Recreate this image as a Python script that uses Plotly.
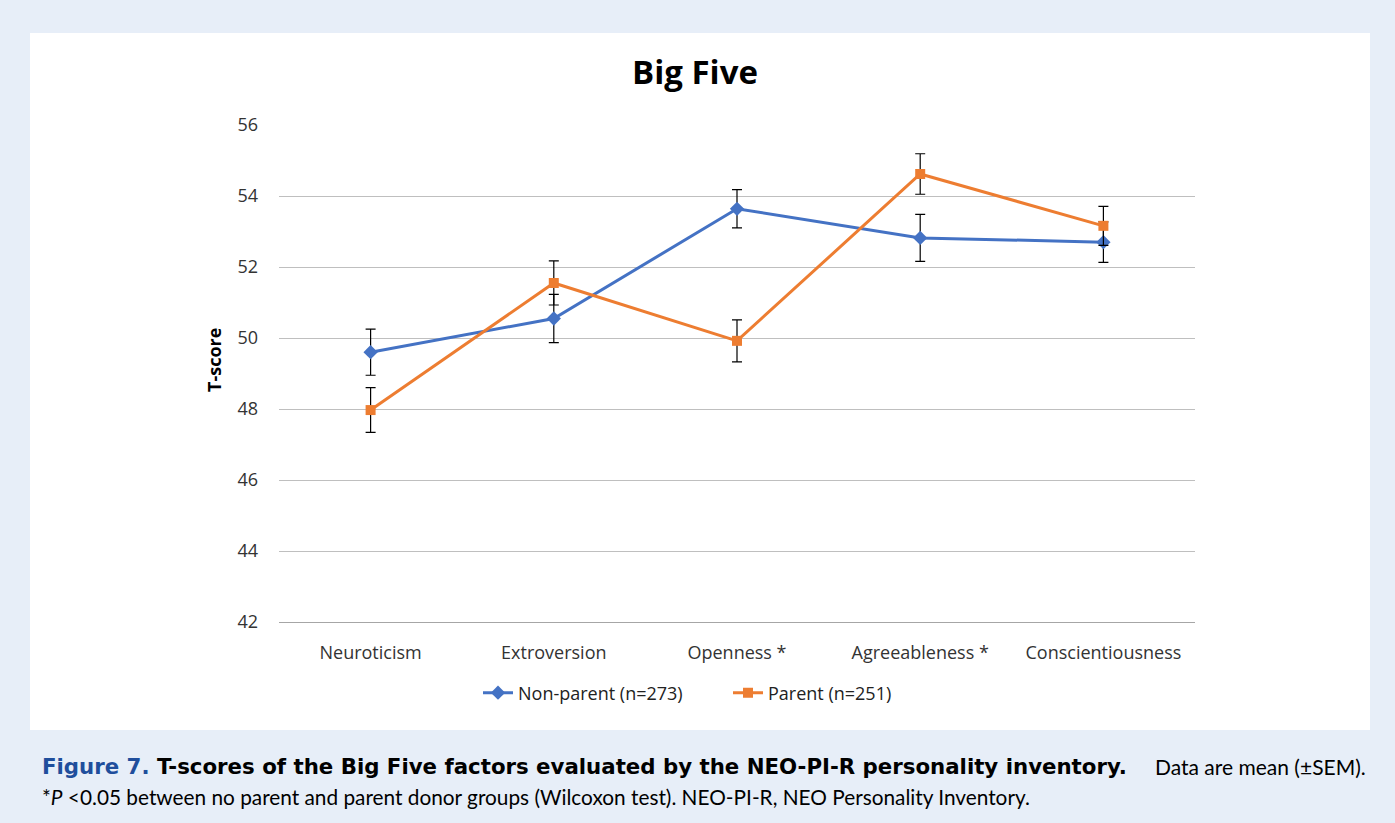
import plotly.graph_objects as go

categories = ["Neuroticism", "Extroversion", "Openness *", "Agreeableness *", "Conscientiousness"]
nonparent = [49.6, 50.55, 53.64, 52.82, 52.7]
nonparent_sem = [0.65, 0.68, 0.54, 0.66, 0.57]
parent = [47.97, 51.55, 49.92, 54.62, 53.16]
parent_sem = [0.63, 0.62, 0.59, 0.57, 0.55]
yticks = [42, 44, 46, 48, 50, 52, 54, 56]

W, H = 1395, 823
L, R, T, B = 279, 1195, 125, 622
pw, ph = R - L, B - T

def px(x):
    return (x - L) / pw

def py(y):
    return (B - y) / ph

BLUE = "#4472c4"
ORANGE = "#ed7d31"
FONT = "Open Sans"

fig = go.Figure()
fig.add_trace(go.Scatter(
    x=categories, y=nonparent, name="Non-parent (n=273)", mode="lines+markers",
    line=dict(color=BLUE, width=3), marker=dict(symbol="diamond", size=11, color=BLUE),
    error_y=dict(type="data", array=nonparent_sem, color="black", thickness=1.2, width=5),
))
fig.add_trace(go.Scatter(
    x=categories, y=parent, name="Parent (n=251)", mode="lines+markers",
    line=dict(color=ORANGE, width=3), marker=dict(symbol="square", size=10, color=ORANGE),
    error_y=dict(type="data", array=parent_sem, color="black", thickness=1.2, width=5),
))

fig.update_layout(
    width=W, height=H,
    margin=dict(l=L, r=W - R, t=T, b=H - B, autoexpand=False),
    paper_bgcolor="#e7eef8", plot_bgcolor="white",
    font=dict(family=FONT, size=18, color="#222"),
    title=dict(text="<b>Big Five</b>", x=px(695), xanchor="center", xref="paper",
               y=1 - 72 / H, yanchor="middle", yref="container",
               font=dict(family=FONT, size=33, color="black")),
    showlegend=True,
    legend=dict(orientation="h", x=px(728), xanchor="center", y=py(693), yanchor="middle",
                font=dict(size=18, color="#222"), bgcolor="rgba(0,0,0,0)",
                entrywidth=205, entrywidthmode="pixels"),
    shapes=[dict(type="rect", xref="paper", yref="paper", x0=px(30), x1=px(1370),
                 y0=py(730), y1=py(33), fillcolor="white", line=dict(width=0), layer="below")],
)
fig.update_xaxes(range=[-0.5, 4.5], showgrid=False, showline=True, linecolor="#a6a6a6",
                 linewidth=1.2, ticks="", ticklabelstandoff=14,
                 tickfont=dict(size=18, color="#333"), fixedrange=True)
fig.update_yaxes(range=[42, 56], tickvals=yticks, showgrid=True, gridcolor="#bfbfbf",
                 gridwidth=1.2, zeroline=False, showline=False, ticks="", ticklabelstandoff=20,
                 tickfont=dict(size=18, color="#333"))

fig.add_annotation(
    xref="paper", yref="paper", x=px(214), y=py(360), xanchor="center", yanchor="middle",
    text="<b>T-score</b>", textangle=-90, showarrow=False,
    font=dict(family=FONT, size=18, color="black"))

fig.add_annotation(
    xref="paper", yref="paper", x=px(40), y=py(766), xanchor="left", yanchor="middle",
    text='<b><span style="color:#1f4e9c">Figure 7.</span> T-scores of the Big Five factors evaluated by the NEO-PI-R personality inventory.</b>',
    showarrow=False, font=dict(family="DejaVu Sans", size=21.3, color="black"))
fig.add_annotation(
    xref="paper", yref="paper", x=px(1368), y=py(766), xanchor="right", yanchor="middle",
    text="Data are mean (±SEM).",
    showarrow=False, font=dict(family="Lato", size=21, color="black"))
fig.add_annotation(
    xref="paper", yref="paper", x=px(40), y=py(796), xanchor="left", yanchor="middle",
    text="*<i>P</i> &lt;0.05 between no parent and parent donor groups (Wilcoxon test). NEO-PI-R, NEO Personality Inventory.",
    showarrow=False, font=dict(family="Lato", size=20.8, color="black"))

fig.write_html("out.html", config={"displayModeBar": False},
               post_script="document.body.style.margin='0';")
